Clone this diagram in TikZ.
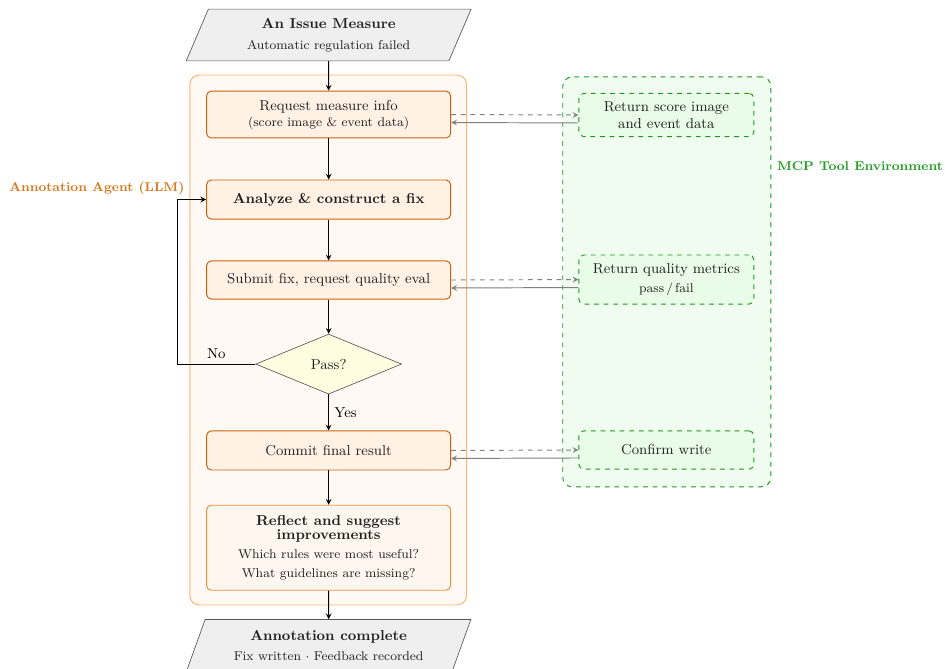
\documentclass[tikz,border=0pt]{standalone}
\usepackage{tikz}
\usetikzlibrary{shapes.geometric}
\usetikzlibrary{positioning}
\usetikzlibrary{arrows}
\definecolor{agentfill}{HTML}{FFF8F3}
\definecolor{agentline}{HTML}{F7B877}
\definecolor{agenttext}{HTML}{D9781C}
\definecolor{procfill}{HTML}{FFF1E4}
\definecolor{procline}{HTML}{C8640E}
\definecolor{reflfill}{HTML}{FFF7EF}
\definecolor{reflline}{HTML}{E8923C}
\definecolor{toolfill}{HTML}{F1FCF1}
\definecolor{toolline}{HTML}{1E9A1E}
\definecolor{tooltext}{HTML}{22A022}
\definecolor{retfill}{HTML}{E8FCE8}
\definecolor{ioline}{HTML}{555555}
\definecolor{iofill}{HTML}{EFEFEF}
\definecolor{passfill}{HTML}{FEFDE0}
\definecolor{txt}{HTML}{222222}

\begin{document}
\begin{tikzpicture}[text=txt]
	\tikzset{>=stealth}
	\useasboundingbox (0,0) rectangle (20.79,-14.70);
	\tikzstyle{ioNode}=[trapezium, trapezium left angle=70, trapezium right angle=110, trapezium stretches=true, draw=ioline, fill=iofill, minimum width=6.27cm, minimum height=1.14cm, align=center, font=\small]
	\tikzstyle{procNode}=[draw=procline, fill=procfill, semithick, minimum width=5.37cm, rounded corners=3pt, align=center, font=\small]
	\tikzstyle{retNode}=[draw=toolline, fill=retfill, semithick, dashed, minimum width=3.85cm, rounded corners=3pt, align=center, font=\small]
	\tikzstyle{flow}=[->, semithick, black]
	
	% Agent and tool areas
	\node (agentArea) at (7.22,-7.48) [draw=agentline, fill=agentfill, semithick, minimum width=6.09cm, minimum height=11.66cm, rounded corners=6pt] {};
	\node (toolArea) at (14.67,-6.20) [draw=toolline, fill=toolfill, semithick, dashed, minimum width=4.58cm, minimum height=9.02cm, rounded corners=6pt] {};
	\node[anchor=east, text=agenttext, font=\footnotesize\bfseries] (agentLbl) at (4.18,-4.14) {Annotation Agent (LLM)};
	\node[anchor=west, text=tooltext, font=\footnotesize\bfseries] (toolLbl) at (16.97,-3.65) {MCP Tool Environment};
	
	% Main flow
	\def\xc{7.23}
	\node (issue) at (\xc,-0.77) [ioNode] {\textbf{An Issue Measure}\\[2pt]{\footnotesize Automatic regulation failed}};
	\node (req) at (\xc,-2.52) [procNode, minimum height=1.03cm] {Request measure info\\[-1pt]{\footnotesize (score image \& event data)}};
	\node (analyze) at (\xc,-4.39) [procNode, minimum height=0.86cm] {\textbf{Analyze \& construct a fix}};
	\node (submit) at (\xc,-6.16) [procNode, minimum height=0.84cm] {Submit fix, request quality eval};
	\node (pass) at (\xc,-8.01) [diamond, aspect=2.43, draw=ioline, fill=passfill, minimum width=3.21cm, minimum height=1.32cm, inner sep=1pt, font=\small] {Pass?};
	\node (commit) at (\xc,-9.91) [procNode, minimum height=0.86cm] {Commit final result};
	\node (reflect) at (\xc,-12.05) [procNode, draw=reflline, fill=reflfill, minimum height=1.87cm] {\textbf{Reflect and suggest}\\[-2pt]\textbf{improvements}\\[1pt]{\footnotesize Which rules were most useful?}\\[1pt]{\footnotesize What guidelines are missing?}};
	\node (done) at (\xc,-14.20) [ioNode] {\textbf{Annotation complete}\\[2pt]{\footnotesize Fix written $\cdot$ Feedback recorded}};
	
	% Tool responses
	\def\xt{14.66}
	\node (scoreRet) at (\xt,-2.53) [retNode, minimum height=0.95cm] {Return score image\\[0pt]and event data};
	\node (qualRet) at (\xt,-6.15) [retNode, minimum height=1.08cm] {Return quality metrics\\[1pt]{\footnotesize pass\,/\,fail}};
	\node (writeRet) at (\xt,-9.90) [retNode, minimum height=0.84cm] {Confirm write};
	
	\draw[flow] (issue) -- (req);
	\draw[flow] (req) -- (analyze);
	\draw[flow] (analyze) -- (submit);
	\draw[flow] (submit) -- (pass);
	\draw[flow] (pass) -- (commit) node[midway, right, font=\small] {Yes};
	\draw[flow] (commit) -- (reflect);
	\draw[flow] (reflect) -- (done);
	\draw[flow] (pass.west) -- ++(-1.72,0) node[midway, above, font=\small] {No} |- (analyze.west);
	
	% Calls and replies
	\foreach \a / \b in {req/scoreRet, submit/qualRet, commit/writeRet}{
		\draw[->, gray, semithick, dashed] (\a.east) -- (\b.west);
		\draw[->, gray, semithick] ([yshift=-5pt]\b.west) -- ([yshift=-5pt]\a.east);
	}
\end{tikzpicture}
\end{document}
